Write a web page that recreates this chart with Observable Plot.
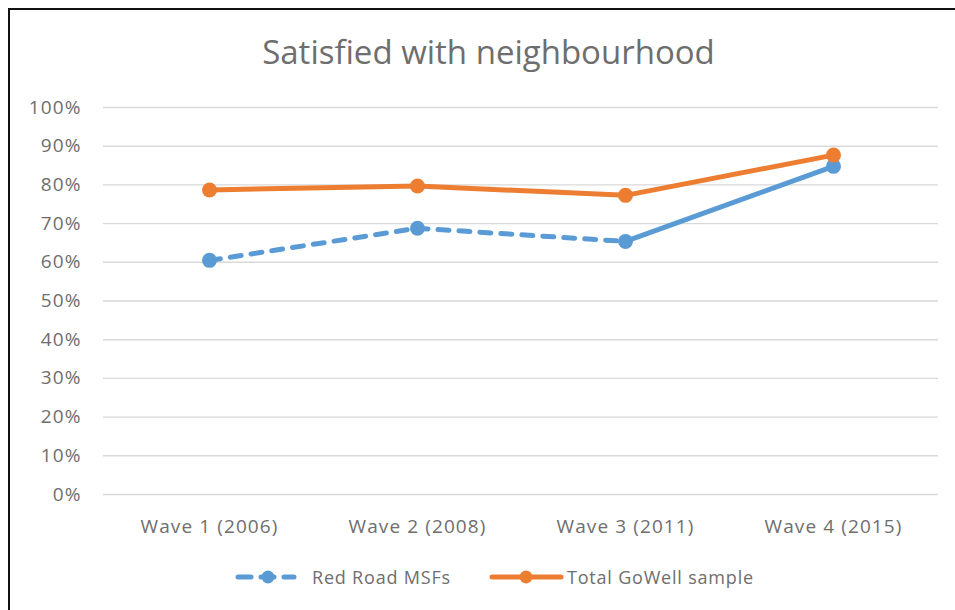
<!DOCTYPE html>
<html>
<head>
<meta charset="utf-8">
<script src="https://cdn.jsdelivr.net/npm/d3@7"></script>
<script src="https://cdn.jsdelivr.net/npm/@observablehq/plot@0.6"></script>
<style>
  html, body { margin: 0; padding: 0; background: #fff; overflow: hidden; }
  body { width: 955px; height: 610px; position: relative; font-family: "Open Sans", "Noto Sans", sans-serif; }
  #frame { position: absolute; left: 8px; top: 8px; width: 1000px; height: 700px; border: 2px solid #111; box-sizing: border-box; }
  #title { position: absolute; left: 0; width: 977px; top: 30px; text-align: center; font-size: 33px; line-height: 44px; color: #6e6e6e; }
  #chart { position: absolute; left: 0; top: 0; }
  #legend { position: absolute; top: 565px; left: 0; width: 955px; height: 24px; font-size: 18px; letter-spacing: 0.8px; color: #6e6e6e; }
  .item { position: absolute; top: 0; display: flex; align-items: center; height: 24px; }
</style>
</head>
<body>
<div id="frame"></div>
<div id="title">Satisfied with neighbourhood</div>
<div id="chart"></div>
<div id="legend">
  <div class="item" style="left:235px"><svg width="62" height="16" style="margin-right:15px"><line x1="3" y1="8" x2="59" y2="8" stroke="#5B9BD5" stroke-width="5" stroke-linecap="round" stroke-dasharray="13 10"/><circle cx="33" cy="8" r="6.5" fill="#5B9BD5"/></svg><span>Red Road MSFs</span></div>
  <div class="item" style="left:489px"><svg width="75" height="16" style="margin-right:3px"><line x1="3" y1="8" x2="72" y2="8" stroke="#ED7D31" stroke-width="5" stroke-linecap="round"/><circle cx="37" cy="8" r="6.5" fill="#ED7D31"/></svg><span>Total GoWell sample</span></div>
</div>
<script>
const waves = ["Wave 1 (2006)", "Wave 2 (2008)", "Wave 3 (2011)", "Wave 4 (2015)"];
const redRoad = [60.5, 68.8, 65.4, 84.8];
const goWell = [78.7, 79.7, 77.3, 87.7];
const yTicks = [0, 10, 20, 30, 40, 50, 60, 70, 80, 90, 100];

const rr = waves.map((w, i) => ({wave: w, value: redRoad[i], i}));
const gw = waves.map((w, i) => ({wave: w, value: goWell[i], i}));
const rrDashed = rr.filter(d => d.i <= 2);
const rrSolid = rr.filter(d => d.i >= 2);

const BLUE = "#5B9BD5", ORANGE = "#ED7D31";

const chart = Plot.plot({
  width: 955,
  height: 540,
  marginLeft: 103,
  marginRight: 17,
  marginTop: 107,
  marginBottom: 46,
  style: {fontFamily: "'Open Sans', 'Noto Sans', sans-serif", fontSize: "19px", color: "#6e6e6e", background: "transparent", overflow: "visible", letterSpacing: "1.1px"},
  x: {type: "point", domain: waves, padding: 0.5, label: null},
  y: {domain: [0, 100], label: null},
  marks: [
    Plot.ruleY(yTicks, {stroke: "#d9d9d9", strokeWidth: 1.4, strokeOpacity: 1}),
    Plot.axisY(yTicks, {tickSize: 0, tickPadding: 22, tickFormat: d => d + "%", fontSize: 19, fill: "#6e6e6e", label: null}),
    Plot.axisX({tickSize: 0, tickPadding: 25, fontSize: 19, fill: "#6e6e6e", label: null}),
    Plot.line(rrDashed, {x: "wave", y: "value", stroke: BLUE, strokeWidth: 5, strokeDasharray: "11 10", strokeLinecap: "round"}),
    Plot.line(rrSolid, {x: "wave", y: "value", stroke: BLUE, strokeWidth: 5, strokeLinecap: "round"}),
    Plot.line(gw, {x: "wave", y: "value", stroke: ORANGE, strokeWidth: 5, strokeLinecap: "round"}),
    Plot.dot(rr, {x: "wave", y: "value", r: 7.5, fill: BLUE}),
    Plot.dot(gw, {x: "wave", y: "value", r: 7.5, fill: ORANGE})
  ]
});
document.getElementById("chart").appendChild(chart);
</script>
</body>
</html>
